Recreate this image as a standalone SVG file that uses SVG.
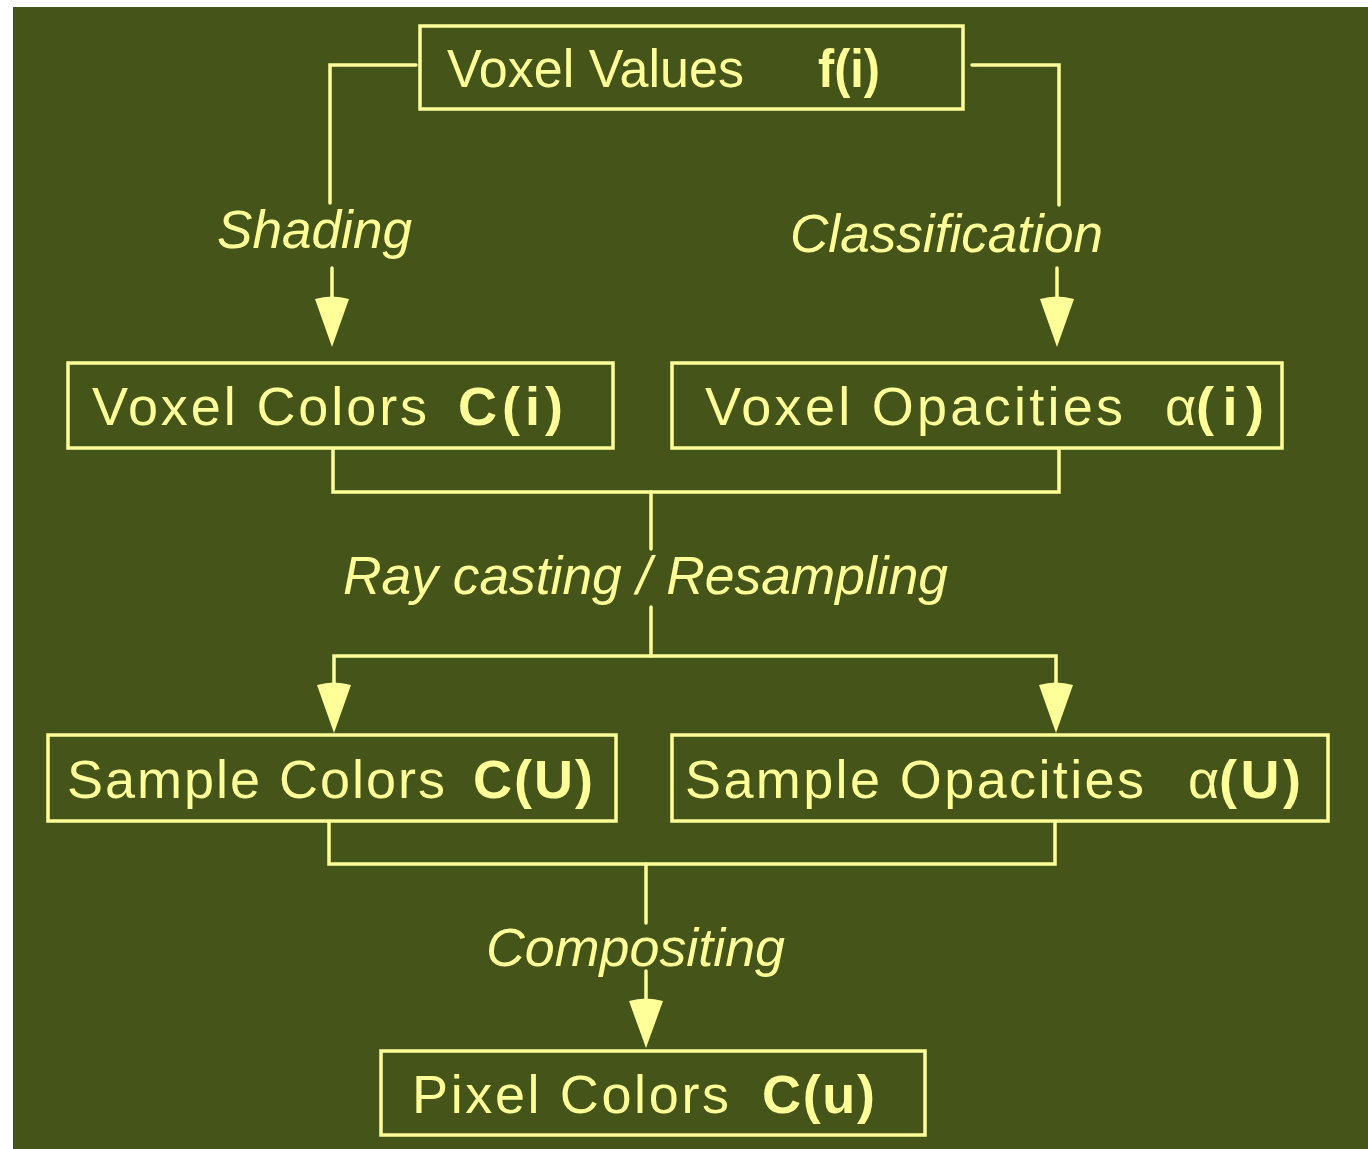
<svg xmlns="http://www.w3.org/2000/svg" width="1368" height="1149" viewBox="0 0 1368 1149">
<style>
.bg{fill:#45551A}
.box{fill:none;stroke:#FFFF99;stroke-width:3.5}
.ln{fill:none;stroke:#FFFF99;stroke-width:3.5;stroke-linecap:round;stroke-linejoin:miter}
.hd{fill:#FFFF99;stroke:none}
.nt{font-family:"Liberation Sans Narrow","Liberation Sans",Arial,sans-serif;font-size:54px;fill:#FFFF99}
.nb{font-family:"Liberation Sans Narrow","Liberation Sans",Arial,sans-serif;font-size:54px;font-weight:bold;fill:#FFFF99}
.lb{font-family:"Liberation Sans",Arial,sans-serif;font-size:54px;font-style:italic;fill:#FFFF99}
</style>
<rect class="bg" x="13" y="7" width="1355" height="1142"/>
<g id="connectors">
<path class="ln" d="M416,65 H330 V203"/>
<path class="ln" d="M332,268 V298"/>
<path class="hd" d="M315,299 Q332,294 349,299 L332,347 Z"/>
<path class="ln" d="M972,65 H1059 V205"/>
<path class="ln" d="M1057,268 V298"/>
<path class="hd" d="M1040,299 Q1057,294 1074,299 L1057,347 Z"/>
<path class="ln" d="M333,449 V492 H1059 V449"/>
<path class="ln" d="M651,492 V549"/>
<path class="ln" d="M651,607 V656"/>
<path class="ln" d="M334,684 V656 H1056 V684"/>
<path class="hd" d="M317,685 Q334,680 351,685 L334,733 Z"/>
<path class="hd" d="M1039,685 Q1056,680 1073,685 L1056,733 Z"/>
<path class="ln" d="M329,822 V864 H1055 V822"/>
<path class="ln" d="M646,864 V923"/>
<path class="ln" d="M646,971 V1000"/>
<path class="hd" d="M629,1001 Q646,996 663,1001 L646,1048 Z"/>
<text class="lb" x="217" y="248" textLength="195" lengthAdjust="spacingAndGlyphs">Shading</text>
<text class="lb" x="790" y="252" textLength="313" lengthAdjust="spacingAndGlyphs">Classification</text>
<text class="lb" x="343" y="594" textLength="605" lengthAdjust="spacingAndGlyphs">Ray casting / Resampling</text>
<text class="lb" x="486" y="966" textLength="299" lengthAdjust="spacingAndGlyphs">Compositing</text>
</g>
<g id="voxel-values">
<rect class="box" x="420" y="26" width="543" height="83"/>
<text class="nt" x="447" y="87" textLength="297" lengthAdjust="spacingAndGlyphs">Voxel Values</text>
<text class="nb" x="818" y="87" textLength="62" lengthAdjust="spacingAndGlyphs">f(i)</text>
</g>
<g id="voxel-colors">
<rect class="box" x="68" y="363" width="545" height="85"/>
<text class="nt" x="92" y="425" textLength="335" lengthAdjust="spacing">Voxel Colors</text>
<text class="nb" x="458" y="425" textLength="105" lengthAdjust="spacing">C(i)</text>
</g>
<g id="voxel-opacities">
<rect class="box" x="672" y="363" width="610" height="85"/>
<text class="nt" x="705" y="425" textLength="418" lengthAdjust="spacing">Voxel Opacities</text>
<text class="nt" x="1165" y="425">α</text>
<text class="nb" x="1196" y="425" textLength="68" lengthAdjust="spacing">(i)</text>
</g>
<g id="sample-colors">
<rect class="box" x="48" y="735" width="568" height="86"/>
<text class="nt" x="67" y="798" textLength="378" lengthAdjust="spacing">Sample Colors</text>
<text class="nb" x="473" y="798" textLength="120" lengthAdjust="spacing">C(U)</text>
</g>
<g id="sample-opacities">
<rect class="box" x="672" y="735" width="656" height="86"/>
<text class="nt" x="685" y="798" textLength="459" lengthAdjust="spacing">Sample Opacities</text>
<text class="nt" x="1188" y="798">α</text>
<text class="nb" x="1219" y="798" textLength="82" lengthAdjust="spacing">(U)</text>
</g>
<g id="pixel-colors">
<rect class="box" x="381" y="1051" width="544" height="84"/>
<text class="nt" x="412" y="1113" textLength="317" lengthAdjust="spacing">Pixel Colors</text>
<text class="nb" x="762" y="1113" textLength="113" lengthAdjust="spacing">C(u)</text>
</g>
</svg>
